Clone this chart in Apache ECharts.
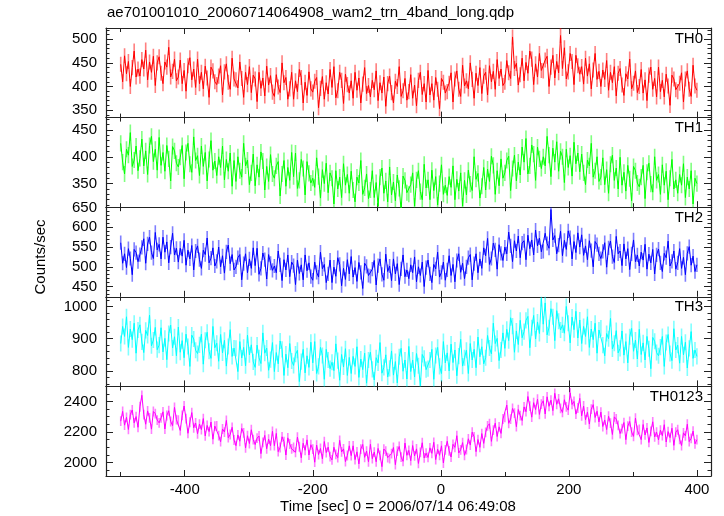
<!DOCTYPE html>
<html><head><meta charset="utf-8">
<script src="https://cdn.jsdelivr.net/npm/echarts@6/dist/echarts.min.js"></script>
<style>html,body{margin:0;padding:0;background:#fff}#c{width:724px;height:516px}</style>
</head><body><div id="c"></div>
<script>
const title = "ae701001010_20060714064908_wam2_trn_4band_long.qdp";
const xTitle = "Time [sec] 0 = 2006/07/14 06:49:08";
const yTitle = "Counts/sec";
const panelNames = ["TH0","TH1","TH2","TH3","TH0123"];
const xMajorTicks = [-400,-200,0,200,400];
const xMinorTicks = [-500,-300,-100,100,300];

const times = [-500,-497,-494,-491,-488,-485,-482,-479,-476,-473,
-470,-467,-464,-461,-458,-455,-452,-449,-446,-443,
-440,-437,-434,-431,-428,-425,-422,-419,-416,-413,
-410,-407,-404,-401,-398,-395,-392,-389,-386,-383,
-380,-377,-374,-371,-368,-365,-362,-359,-356,-353,
-350,-347,-344,-341,-338,-335,-332,-329,-326,-323,
-320,-317,-314,-311,-308,-305,-302,-299,-296,-293,
-290,-287,-284,-281,-278,-275,-272,-269,-266,-263,
-260,-257,-254,-251,-248,-245,-242,-239,-236,-233,
-230,-227,-224,-221,-218,-215,-212,-209,-206,-203,
-200,-197,-194,-191,-188,-185,-182,-179,-176,-173,
-170,-167,-164,-161,-158,-155,-152,-149,-146,-143,
-140,-137,-134,-131,-128,-125,-122,-119,-116,-113,
-110,-107,-104,-101,-98,-95,-92,-89,-86,-83,
-80,-77,-74,-71,-68,-65,-62,-59,-56,-53,
-50,-47,-44,-41,-38,-35,-32,-29,-26,-23,
-20,-17,-14,-11,-8,-5,-2,1,4,7,
10,13,16,19,22,25,28,31,34,37,
40,43,46,49,52,55,58,61,64,67,
70,73,76,79,82,85,88,91,94,97,
100,103,106,109,112,115,118,121,124,127,
130,133,136,139,142,145,148,151,154,157,
160,163,166,169,172,175,178,181,184,187,
190,193,196,199,202,205,208,211,214,217,
220,223,226,229,232,235,238,241,244,247,
250,253,256,259,262,265,268,271,274,277,
280,283,286,289,292,295,298,301,304,307,
310,313,316,319,322,325,328,331,334,337,
340,343,346,349,352,355,358,361,364,367,
370,373,376,379,382,385,388,391,394,397,
400];

const th0 = [447,410,465,427,453,400,440,475,420,437,
422,457,437,477,414,452,430,464,402,450,
463,428,406,452,441,483,420,432,458,412,
420,456,406,434,390,444,461,414,437,398,
458,406,430,395,443,418,377,441,433,410,
404,422,444,382,431,448,409,394,460,416,
414,397,452,417,377,430,404,442,387,424,
416,368,430,396,418,380,443,403,423,388,
379,425,399,387,450,408,419,373,395,430,
373,412,389,436,419,365,409,381,431,395,
388,411,419,355,396,421,373,408,384,436,
398,442,376,391,430,413,364,426,404,386,
412,375,430,392,418,365,405,440,385,402,
378,413,393,433,370,408,386,420,358,406,
422,387,365,411,400,442,379,391,417,371,
389,425,375,403,359,413,430,383,406,367,
434,382,406,371,419,394,353,417,409,386,
389,407,429,367,416,433,394,379,445,401,
412,395,450,415,375,428,402,440,385,422,
430,382,444,410,432,394,457,417,437,402,
409,455,429,417,505,438,449,403,425,460,
412,451,428,475,458,404,448,420,470,434,
433,456,464,400,441,466,418,453,429,508,
438,482,416,431,470,453,404,466,444,426,
442,405,460,422,448,395,435,470,415,432,
400,435,415,455,392,430,408,442,380,428,
438,403,381,427,416,458,395,407,433,387,
400,436,386,414,370,424,441,394,417,378,
441,389,413,378,426,401,360,424,416,393,
389,407,429,367,416,433,394,379,445,401,
392];

const th1 = [425,390,368,414,403,445,382,394,420,374,
397,433,383,411,367,421,438,391,414,375,
436,384,408,373,421,396,355,419,411,388,
381,399,421,359,408,425,386,371,437,393,
402,365,420,382,408,355,395,430,375,392,
365,400,380,420,357,395,373,407,345,393,
354,400,374,362,425,383,394,348,370,405,
346,385,362,409,392,338,382,354,404,368,
360,383,391,327,368,393,345,380,356,408,
363,407,341,356,395,378,329,391,369,351,
360,343,398,363,323,376,350,388,333,370,
360,312,374,340,362,324,387,347,367,332,
373,338,316,362,351,393,330,342,368,322,
338,374,324,352,308,362,379,332,355,316,
381,329,353,318,366,341,300,364,356,333,
330,348,370,308,357,374,335,320,386,342,
357,320,375,337,363,310,350,385,330,347,
328,363,343,383,320,358,336,370,308,356,
329,375,349,337,400,358,369,323,345,380,
338,377,354,401,384,330,374,346,396,360,
370,393,401,337,378,403,355,390,366,418,
390,434,368,383,422,405,356,418,396,378,
400,383,438,403,363,416,390,428,373,410,
400,352,414,380,402,364,427,387,407,372,
405,370,348,394,383,425,362,374,400,354,
362,398,348,376,332,386,403,356,379,340,
399,347,371,336,384,359,318,382,374,351,
344,362,384,322,371,388,349,334,400,356,
367,330,385,347,373,320,360,395,340,357,
332,367,347,387,324,362,340,374,312,360,
350];

const th2 = [561,509,533,498,546,521,480,544,536,513,
531,549,571,509,558,575,536,521,587,543,
557,520,575,537,563,510,550,585,530,547,
512,547,527,567,504,542,520,554,492,540,
553,518,496,542,531,573,510,522,548,502,
514,550,500,528,484,538,555,508,531,492,
500,523,531,467,508,533,485,520,496,548,
503,547,481,496,535,518,469,531,509,491,
502,485,540,505,465,518,492,530,475,512,
503,455,517,483,505,467,530,490,510,475,
466,512,486,474,537,495,506,460,482,517,
460,499,476,523,506,452,496,468,518,482,
526,474,498,463,511,486,445,509,501,478,
476,494,516,454,503,520,481,466,532,488,
502,465,520,482,508,455,495,530,475,492,
470,505,485,525,462,500,478,512,450,498,
517,482,460,506,495,537,474,486,512,466,
492,528,478,506,462,516,533,486,509,470,
500,523,531,467,508,533,485,520,496,548,
528,572,506,521,560,543,494,556,534,516,
550,533,588,553,513,566,540,578,523,560,
566,518,580,546,568,530,593,553,573,538,
539,585,559,547,645,568,579,533,555,590,
528,567,544,591,574,520,564,536,586,550,
581,529,553,518,566,541,500,564,556,533,
521,539,561,499,548,565,526,511,577,533,
540,503,558,520,546,493,533,568,513,530,
502,537,517,557,494,532,510,544,482,530,
545,510,488,534,523,565,502,514,540,494,
510,546,496,524,480,534,551,504,527,488,
505];

const th3 = [885,938,907,968,873,930,897,948,855,927,
943,890,857,926,910,973,878,896,935,866,
880,934,859,901,835,916,942,871,906,847,
936,858,894,841,914,876,814,911,899,864,
854,881,914,821,895,920,861,839,938,872,
886,830,913,856,895,815,876,928,845,871,
870,798,891,840,873,816,911,850,881,828,
811,880,841,823,918,855,871,802,835,888,
798,857,822,893,867,786,852,810,885,831,
817,852,864,767,829,867,794,847,811,889,
825,891,792,814,873,848,774,867,834,807,
827,801,884,832,771,851,812,869,786,842,
792,845,814,875,780,837,804,855,762,834,
858,805,772,841,825,888,793,811,850,781,
808,862,787,829,763,844,870,799,834,775,
876,798,834,781,854,816,754,851,839,804,
807,834,867,774,848,873,814,792,891,825,
856,800,883,826,865,785,846,898,815,841,
864,792,885,834,867,810,905,844,875,822,
841,910,871,853,948,885,901,832,865,918,
870,929,894,965,939,858,924,882,957,903,
922,957,969,872,934,972,899,952,916,1025,
945,1011,912,934,993,968,894,987,954,927,
943,917,1000,948,887,967,928,985,902,958,
885,938,907,968,873,930,897,948,855,927,
933,880,847,916,900,963,868,886,925,856,
870,924,849,891,825,906,932,861,896,837,
929,851,887,834,907,869,807,904,892,857,
847,874,907,814,888,913,854,832,931,865,
880,824,907,850,889,809,870,922,839,865,
845];

const th0123 = [2271,2335,2245,2296,2217,2314,2344,2260,2301,2231,
2365,2440,2314,2251,2338,2293,2219,2334,2320,2278,
2260,2292,2332,2220,2308,2339,2269,2242,2361,2281,
2277,2210,2309,2370,2287,2192,2264,2327,2228,2259,
2189,2252,2216,2288,2175,2243,2203,2265,2153,2239,
2240,2177,2137,2220,2200,2276,2163,2184,2231,2148,
2111,2181,2140,2224,2194,2097,2176,2125,2215,2151,
2118,2160,2174,2059,2133,2178,2091,2154,2111,2205,
2111,2191,2072,2099,2169,2138,2050,2162,2122,2090,
2099,2068,2167,2104,2032,2127,2081,2149,2050,2117,
2089,2003,2115,2053,2093,2025,2138,2066,2102,2039,
2018,2101,2054,2033,2146,2070,2090,2007,2047,2110,
2046,2110,2020,2071,1992,2089,2119,2035,2076,2006,
2120,2026,2069,2006,2093,2048,1974,2089,2075,2033,
2027,2059,2099,1987,2075,2106,2036,2009,2128,2048,
2080,2013,2112,2044,2090,1995,2067,2130,2031,2062,
2034,2097,2061,2133,2020,2088,2048,2110,1998,2084,
2140,2077,2037,2120,2100,2176,2063,2084,2131,2048,
2086,2156,2115,2199,2169,2072,2151,2100,2190,2126,
2198,2240,2254,2139,2213,2258,2171,2234,2191,2285,
2296,2376,2257,2284,2354,2323,2235,2347,2307,2275,
2364,2333,2432,2369,2297,2392,2346,2414,2315,2382,
2404,2318,2430,2368,2408,2340,2453,2381,2417,2354,
2328,2411,2364,2343,2456,2380,2400,2317,2357,2420,
2306,2370,2280,2331,2252,2349,2379,2295,2336,2266,
2330,2236,2279,2216,2303,2258,2184,2299,2285,2243,
2190,2222,2262,2150,2238,2269,2199,2172,2291,2211,
2217,2150,2249,2181,2227,2132,2204,2267,2168,2199,
2149,2212,2176,2248,2135,2203,2163,2225,2113,2199,
2215,2152,2112,2195,2175,2251,2138,2159,2206,2123,
2150];

const errHalf = [16, 15, 18, 25, 32];

const panelSeries = [th0, th1, th2, th3, th0123];
const yMin = [334, 306, 424, 752, 1913];
const yMax = [524, 473, 651, 1030, 2498];
const yMajor = [[350,400,450,500],[350,400,450],[450,500,550,600,650],[800,900,1000],[2000,2200,2400]];
const yMinor = [[340,360,370,380,390,410,420,430,440,460,470,480,490,510,520],
  [310,320,330,340,360,370,380,390,410,420,430,440,460,470],
  [430,440,460,470,480,490,510,520,530,540,560,570,580,590,610,620,630,640],
  [760,780,820,840,860,880,920,940,960,980,1020],
  [1950,2050,2100,2150,2250,2300,2350,2450]];
const colors = ['#ff0000','#00ff00','#0000ff','#00ffff','#ff00ff'];

const FONT = 'Liberation Sans, Arial, Helvetica, sans-serif';
const chart = echarts.init(document.getElementById('c'), null, {renderer:'canvas'});
const L = 106, R = 711, TOP = 28, BOT = 476;
const H = (BOT - TOP) / 5;
const axisCol = '#222';
const grids = [], xAxes = [], yAxes = [], series = [], graphics = [];

for (let k = 0; k < 5; k++) {
  grids.push({left: L, top: TOP + H * k, width: R - L, height: H});
  const xBase = {type:'value', gridIndex:k, min:-523, max:422, splitLine:{show:false}, axisLabel:{show:false}};
  xAxes.push(Object.assign({}, xBase, {position:'bottom',
    axisLine:{show:true, onZero:false, lineStyle:{color:axisCol, width:1.2}},
    axisTick:{show:true, inside:true, length:6, customValues:xMajorTicks, lineStyle:{color:axisCol}},
    axisLabel:{show:k===4, customValues:xMajorTicks, fontSize:15, color:'#000', fontFamily:FONT, margin:6,
      formatter: v => String(v)}}));
  xAxes.push(Object.assign({}, xBase, {position:'bottom',
    axisLine:{show:false, onZero:false},
    axisTick:{show:true, inside:true, length:4, customValues:xMinorTicks, lineStyle:{color:axisCol}}}));
  xAxes.push(Object.assign({}, xBase, {position:'top',
    axisLine:{show:true, onZero:false, lineStyle:{color:axisCol, width:1.2}},
    axisTick:{show:true, inside:true, length:6, customValues:xMajorTicks, lineStyle:{color:axisCol}}}));
  xAxes.push(Object.assign({}, xBase, {position:'top',
    axisLine:{show:false, onZero:false},
    axisTick:{show:true, inside:true, length:4, customValues:xMinorTicks, lineStyle:{color:axisCol}}}));

  const yBase = {type:'value', gridIndex:k, min:yMin[k], max:yMax[k], splitLine:{show:false}, axisLabel:{show:false}};
  yAxes.push(Object.assign({}, yBase, {position:'left',
    axisLine:{show:true, onZero:false, lineStyle:{color:axisCol, width:1.2}},
    axisTick:{show:true, inside:true, length:7, customValues:yMajor[k], lineStyle:{color:axisCol}},
    axisLabel:{show:true, customValues:yMajor[k], fontSize:15, color:'#000', fontFamily:FONT, margin:9,
      formatter: v => String(v)}}));
  yAxes.push(Object.assign({}, yBase, {position:'left',
    axisLine:{show:false, onZero:false},
    axisTick:{show:true, inside:true, length:3.5, customValues:yMinor[k], lineStyle:{color:axisCol}}}));
  yAxes.push(Object.assign({}, yBase, {position:'right',
    axisLine:{show:true, onZero:false, lineStyle:{color:axisCol, width:1.2}},
    axisTick:{show:true, inside:true, length:7, customValues:yMajor[k], lineStyle:{color:axisCol}}}));
  yAxes.push(Object.assign({}, yBase, {position:'right',
    axisLine:{show:false, onZero:false},
    axisTick:{show:true, inside:true, length:3.5, customValues:yMinor[k], lineStyle:{color:axisCol}}}));

  const col = colors[k];
  const vals = panelSeries[k];
  const data = times.map((t, i) => [t, vals[i]]);
  const errData = times.map((t, i) => [t, vals[i], errHalf[k]]);
  series.push({type:'custom', xAxisIndex:k*4, yAxisIndex:k*4, data:errData, silent:true, clip:true, z:2,
    renderItem: function (params, api) {
      const x = api.value(0), y = api.value(1), e = api.value(2);
      const p1 = api.coord([x, y - e]), p2 = api.coord([x, y + e]);
      return {type:'line', shape:{x1:p1[0], y1:p1[1], x2:p2[0], y2:p2[1]},
        style:{stroke:col, lineWidth:1.6, opacity:0.5}};
    }});
  series.push({type:'line', name:panelNames[k], xAxisIndex:k*4, yAxisIndex:k*4, data:data, showSymbol:false, symbol:'none',
    lineStyle:{color:col, width:1}, silent:true, z:3});

  graphics.push({type:'text', right: 724 - 703, top: TOP + H * k + 3,
    style:{text:panelNames[k], font:'15px ' + FONT, fill:'#000'}, z:10});
}

graphics.push({type:'text', left:107, top:5, style:{text:title, font:'15px ' + FONT, fill:'#000'}});
graphics.push({type:'text', x:398, y:507, style:{text:xTitle, font:'15px ' + FONT, fill:'#000', align:'center', verticalAlign:'middle'}});
graphics.push({type:'text', x:41, y:257, rotation:Math.PI/2, style:{text:yTitle, font:'15px ' + FONT, fill:'#000', align:'center', verticalAlign:'middle'}});

chart.setOption({animation:false, backgroundColor:'#fff', grid:grids, xAxis:xAxes, yAxis:yAxes, series:series, graphic:graphics});
</script></body></html>
